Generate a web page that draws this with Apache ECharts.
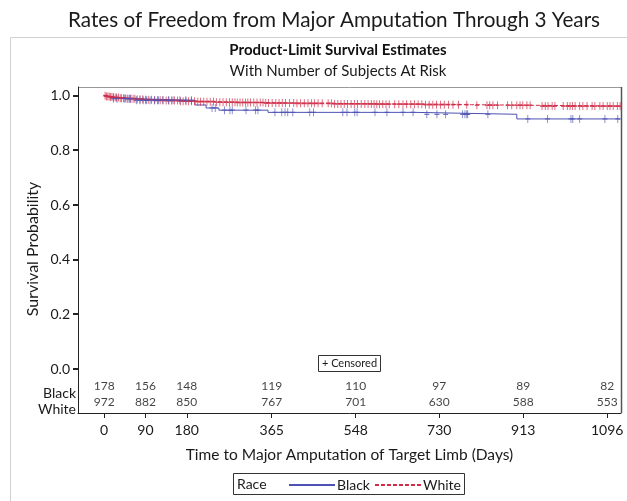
<!DOCTYPE html>
<html><head><meta charset="utf-8">
<script src="https://cdn.jsdelivr.net/npm/echarts@6/dist/echarts.min.js"></script>
<style>html,body{margin:0;padding:0;background:#fff}#c{width:627px;height:501px}</style>
</head><body><div id="c"></div>
<script>
// ---- data ----
const riskDays = [0, 90, 180, 365, 548, 730, 913, 1096];
const riskBlack = [178, 156, 148, 119, 110, 97, 89, 82];
const riskWhite = [972, 882, 850, 767, 701, 630, 588, 553];
const groups = ['Black', 'White'];

const blackTimes = [0, 6, 18, 62, 198, 222, 250, 357, 677, 899];
const blackSurv  = [1.0, 0.994, 0.989, 0.983, 0.966, 0.955, 0.947, 0.939, 0.932, 0.915];

const whiteTimes = [0, 4, 12, 22, 35, 50, 68, 88, 110, 135, 165, 200, 240, 290, 350, 420, 500, 590, 700, 800, 930];
const whiteSurv  = [1.0, 0.997, 0.995, 0.993, 0.991, 0.989, 0.987, 0.985, 0.983, 0.982, 0.980, 0.978, 0.976, 0.975, 0.973, 0.972, 0.970, 0.969, 0.967, 0.965, 0.962];

const lastDay = 1125;

const blackCensor = [20, 28, 45, 52, 58, 70, 78, 85, 92, 100, 110, 118, 128, 140, 150, 165, 178, 190, 235, 242, 262, 274, 279, 309, 330, 335, 372, 387, 394, 400, 411, 448, 456, 520, 529, 546, 551, 590, 616, 651, 673, 703, 725, 744, 781, 786, 790, 792, 836, 923, 966, 1017, 1021, 1036, 1091, 1119];

const whiteCensor = [2, 5, 8, 11, 14, 17, 20, 24, 27, 31, 35, 38, 42, 46, 50, 55, 58, 63, 67, 72, 78, 84, 90, 96,
  103, 110, 116, 122, 128, 135, 141, 147, 153, 160, 166, 172, 178, 184, 190, 197, 204, 210, 217, 224, 231, 238, 245, 252, 259, 266,
  273, 279, 285, 290, 296, 302, 308, 313, 319, 326, 333, 340, 346, 352, 358, 366, 374, 381, 388, 395, 404, 413, 420, 428, 436, 444, 452, 458, 466, 475, 488, 495, 502, 509, 516, 523, 530, 538, 545, 552,
  560, 568, 575, 582, 588, 594, 600, 607, 614, 621, 633, 642, 651, 659, 668, 676, 684, 692, 700, 708, 716, 724, 733, 741, 750, 760, 772, 790, 812,
  834, 840, 847, 857, 879, 888, 899, 906, 912, 921, 928, 954, 961, 967, 976, 982, 1000, 1009, 1015, 1020, 1026, 1036, 1043, 1052, 1063, 1069, 1080, 1087, 1096, 1102, 1109, 1118, 1124];

const yTickValues = [0, 0.2, 0.4, 0.6, 0.8, 1.0];

// ---- helpers ----
function stepData(t, s) {
  const d = t.map((x, i) => [x, s[i]]);
  d.push([lastDay, s[s.length - 1]]);
  return d;
}
function survAt(t, s, day) {
  let v = s[0];
  for (let i = 0; i < t.length; i++) if (t[i] <= day) v = s[i];
  return v;
}
function censorData(c, t, s) { return c.map(d => [d, survAt(t, s, d)]); }

const FONT = 'Lato';
const TXT = '#1a1a1a';
const BLUE = '#4d52b4';
const RED = '#cf2a46';
const PLUS = 'path://M5,0L5,10M0,5L10,5';
const XMIN = -57, XMAX = 1126;

const chart = echarts.init(document.getElementById('c'), null, {renderer: 'canvas'});
const xCommon = {type: 'value', min: XMIN, max: XMAX};

const staticGraphics = [
  {type: 'rect', shape: {x: 10.5, y: 37.5, width: 700, height: 470}, style: {fill: 'none', stroke: '#d0d0d0', lineWidth: 1}, silent: true},
  {type: 'text', x: 334, y: 20, style: {text: 'Rates of Freedom from Major Amputation Through 3 Years', align: 'center', verticalAlign: 'middle', font: '20.7px Lato', fill: TXT}},
  {type: 'text', x: 338, y: 50, style: {text: 'Product-Limit Survival Estimates', align: 'center', verticalAlign: 'middle', font: 'bold 15px Lato', fill: '#111'}},
  {type: 'text', x: 338, y: 71, style: {text: 'With Number of Subjects At Risk', align: 'center', verticalAlign: 'middle', font: '15px Lato', fill: TXT}},
  {type: 'text', x: 33, y: 249, rotation: Math.PI / 2, style: {text: 'Survival Probability', align: 'center', verticalAlign: 'middle', font: '16px Lato', fill: TXT}},
  {type: 'line', shape: {x1: 78, y1: 87.5, x2: 621, y2: 87.5}, style: {stroke: '#999', lineWidth: 1}, silent: true},
  {type: 'line', shape: {x1: 621.5, y1: 87, x2: 621.5, y2: 413}, style: {stroke: '#555', lineWidth: 1.5}, silent: true},
  {type: 'line', shape: {x1: 78.5, y1: 87, x2: 78.5, y2: 414}, style: {stroke: '#222', lineWidth: 1}, silent: true},
  {type: 'rect', shape: {x: 318.5, y: 355.5, width: 62, height: 16}, style: {fill: '#fff', stroke: '#333', lineWidth: 1}, silent: true},
  {type: 'text', x: 349.5, y: 363.5, style: {text: '+ Censored', align: 'center', verticalAlign: 'middle', font: '11px Lato', fill: TXT}},
  {type: 'rect', shape: {x: 233.5, y: 473.5, width: 231, height: 21}, style: {fill: 'none', stroke: '#333', lineWidth: 1}, silent: true},
  {type: 'text', x: 237, y: 484, style: {text: 'Race', align: 'left', verticalAlign: 'middle', font: '14px Lato', fill: TXT}}
];

chart.setOption({
  animation: false,
  backgroundColor: '#fff',
  textStyle: {fontFamily: FONT, color: TXT},
  grid: [
    {left: 78, right: 6, top: 87, bottom: 132},
    {left: 78, right: 6, top: 378, bottom: 91}
  ],
  xAxis: [
    Object.assign({gridIndex: 0, show: false}, xCommon),
    Object.assign({
      gridIndex: 1, position: 'bottom', offset: 3,
      axisLine: {show: true, onZero: false, lineStyle: {color: '#222', width: 1}},
      axisTick: {show: true, length: 5, customValues: riskDays, lineStyle: {color: '#222'}},
      axisLabel: {customValues: riskDays, margin: 10, fontSize: 14, color: TXT, fontFamily: FONT, formatter: v => String(v)},
      splitLine: {show: false},
      name: 'Time to Major Amputation of Target Limb (Days)',
      nameLocation: 'middle', nameGap: 34,
      nameTextStyle: {fontSize: 15.5, color: TXT, fontFamily: FONT}
    }, xCommon)
  ],
  yAxis: [
    {
      gridIndex: 0, type: 'value', min: 0, max: 1.0318, position: 'left',
      axisLine: {show: true, onZero: false, lineStyle: {color: '#222', width: 1}},
      axisTick: {show: true, inside: false, length: 5, customValues: yTickValues, lineStyle: {color: '#222', width: 1}},
      axisLabel: {customValues: yTickValues, margin: 8, fontSize: 14, color: TXT, fontFamily: FONT,
        formatter: v => Number(v).toFixed(1)},
      splitLine: {show: false}
    },
    {
      gridIndex: 1, type: 'category', data: ['White', 'Black'],
      axisLine: {show: false, onZero: false}, axisTick: {show: false}, splitLine: {show: false},
      axisLabel: {interval: 0, hideOverlap: false, fontSize: 14, color: TXT, fontFamily: FONT, margin: 2, verticalAlign: 'top', lineHeight: 14}
    }
  ],
  legend: {
    left: 283, top: 478, itemWidth: 46, itemHeight: 12, itemGap: 4, padding: [0, 5],
    selectedMode: false,
    itemStyle: {opacity: 0},
    textStyle: {fontSize: 14, color: TXT, fontFamily: FONT, padding: [0, 0, 0, -3]},
    data: groups
  },
  series: [
    {name: 'Black', type: 'line', xAxisIndex: 0, yAxisIndex: 0, step: 'end', symbol: 'none',
      lineStyle: {color: BLUE, width: 1}, itemStyle: {color: BLUE}, silent: true,
      data: stepData(blackTimes, blackSurv), z: 3},
    {name: 'White', type: 'line', xAxisIndex: 0, yAxisIndex: 0, step: 'end', symbol: 'none',
      lineStyle: {color: RED, width: 1, type: [4, 2]}, itemStyle: {color: RED}, silent: true,
      data: stepData(whiteTimes, whiteSurv), z: 2},
    {name: 'Black censored', type: 'scatter', xAxisIndex: 0, yAxisIndex: 0, symbol: PLUS, symbolSize: [5, 8],
      itemStyle: {color: 'none', borderColor: BLUE, borderWidth: 1}, silent: true,
      data: censorData(blackCensor, blackTimes, blackSurv), z: 4},
    {name: 'White censored', type: 'scatter', xAxisIndex: 0, yAxisIndex: 0, symbol: PLUS, symbolSize: [4, 8],
      itemStyle: {color: 'none', borderColor: RED, borderWidth: 1.2}, silent: true,
      data: censorData(whiteCensor, whiteTimes, whiteSurv), z: 3},
    {name: 'riskBlack', type: 'scatter', xAxisIndex: 1, yAxisIndex: 1, symbolSize: 1,
      itemStyle: {color: 'rgba(0,0,0,0)'}, silent: true,
      label: {show: true, position: 'inside', formatter: p => p.data[2], fontSize: 12, color: '#111', fontFamily: FONT},
      data: riskDays.map((d, i) => [d, 'Black', riskBlack[i]])},
    {name: 'riskWhite', type: 'scatter', xAxisIndex: 1, yAxisIndex: 1, symbolSize: 1,
      itemStyle: {color: 'rgba(0,0,0,0)'}, silent: true,
      label: {show: true, position: 'inside', formatter: p => p.data[2], fontSize: 12, color: '#111', fontFamily: FONT},
      data: riskDays.map((d, i) => [d, 'White', riskWhite[i]])}
  ],
  graphic: staticGraphics
});

// y-axis tick marks placed through the library's own scale
const tickGraphics = yTickValues.map(v => {
  const p = chart.convertToPixel({gridIndex: 0}, [XMIN, v]);
  const y = Math.round(p[1]);
  return {type: 'line', z: 200, silent: true,
    shape: {x1: p[0] - 5, y1: y, x2: p[0] + 1, y2: y},
    style: {stroke: '#222', lineWidth: 2}};
});
chart.setOption({graphic: staticGraphics.concat(tickGraphics)});
</script></body></html>
